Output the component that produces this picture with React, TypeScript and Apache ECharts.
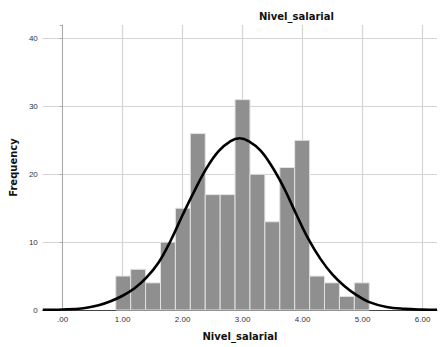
import React, { useEffect, useRef } from "react";
import * as echarts from "echarts";

// Histogram bins (lower edge, upper edge) and frequencies
const binStarts = [0.886, 1.135, 1.383, 1.632, 1.880, 2.129, 2.377, 2.626, 2.874, 3.123, 3.371, 3.620, 3.868, 4.117, 4.365, 4.614, 4.862];
const binEnds = [1.135, 1.383, 1.632, 1.880, 2.129, 2.377, 2.626, 2.874, 3.123, 3.371, 3.620, 3.868, 4.117, 4.365, 4.614, 4.862, 5.111];
const frequencies = [5, 6, 4, 10, 15, 26, 17, 17, 31, 20, 13, 21, 25, 5, 4, 2, 4];

// Normal curve overlay
const curveX = [-0.33, 0, 0.35, 0.6, 0.8, 1.0, 1.2, 1.4, 1.6, 1.8, 2.0, 2.2, 2.4, 2.6, 2.8, 2.95, 3.1, 3.3, 3.5, 3.7, 3.9, 4.1, 4.3, 4.5, 4.7, 4.9, 5.1, 5.4, 5.7, 6.0, 6.24];
const curveY = [0.03, 0.08, 0.27, 0.7, 1.3, 2.1, 3.2, 4.8, 7.0, 10.2, 14.0, 17.6, 20.9, 23.4, 24.9, 25.3, 24.9, 23.5, 21.0, 17.8, 14.0, 10.4, 7.5, 5.2, 3.5, 2.2, 1.2, 0.45, 0.17, 0.06, 0.03];

const yTickValues = [0, 10, 20, 30, 40];
const xTickValues = [0, 1, 2, 3, 4, 5, 6];
const xTickLabels = [".00", "1.00", "2.00", "3.00", "4.00", "5.00", "6.00"];

const titleText = "Nivel_salarial";
const xName = "Nivel_salarial";
const yName = "Frequency";

export default function App() {
  const ref = useRef<HTMLDivElement>(null);

  useEffect(() => {
    if (!ref.current) return;
    const chart = echarts.init(ref.current, undefined, { renderer: "svg" });

    const histData = frequencies.map((f, i) => [binStarts[i], binEnds[i], f]);
    const curveData = curveX.map((x, i) => [x, curveY[i]]);

    const xLabel = (v: number) => {
      const r = Math.round(v);
      if (Math.abs(v - r) > 1e-6) return "";
      const idx = xTickValues.indexOf(r);
      return idx >= 0 ? xTickLabels[idx] : "";
    };
    const yLabel = (v: number) => (yTickValues.indexOf(v) >= 0 ? String(v) : "");

    chart.setOption({
      animation: false,
      backgroundColor: "#ffffff",
      textStyle: { fontFamily: "Liberation Sans" },
      grid: { left: 42, right: 0, top: 25, bottom: 37, containLabel: false },
      graphic: [
        {
          type: "text",
          x: 259,
          y: 16.5,
          style: {
            text: titleText,
            font: "bold 10px 'DejaVu Sans'",
            fill: "#111",
            textVerticalAlign: "middle",
            textAlign: "left",
          },
        },
      ],
      xAxis: {
        type: "value",
        min: -0.33,
        max: 6.24,
        minInterval: 1,
        maxInterval: 1,
        name: xName,
        nameLocation: "middle",
        nameGap: 21,
        nameTextStyle: { fontFamily: "DejaVu Sans", fontWeight: "bold", fontSize: 10, color: "#111" },
        axisLine: { show: true, onZero: false, lineStyle: { color: "#444", width: 1 } },
        axisTick: { show: false },
        axisLabel: { formatter: xLabel, fontSize: 8, color: "#333", margin: 5, showMinLabel: true, showMaxLabel: true },
        splitLine: { show: true, showMinLine: false, showMaxLine: false, lineStyle: { color: "#d4d4d4", width: 1.2 } },
      },
      yAxis: {
        type: "value",
        min: 0,
        max: 42,
        interval: 10,
        name: yName,
        nameLocation: "middle",
        nameGap: 23,
        nameRotate: 90,
        nameTextStyle: { fontFamily: "DejaVu Sans", fontWeight: "bold", fontSize: 10, color: "#111" },
        axisLine: { show: true, lineStyle: { color: "#aaaaaa", width: 1 } },
        axisTick: { show: true, length: 3, lineStyle: { color: "#aaaaaa" } },
        axisLabel: { formatter: yLabel, fontSize: 8, color: "#333", margin: 5 },
        splitLine: { show: true, showMinLine: false, showMaxLine: false, lineStyle: { color: "#d4d4d4", width: 1.2 } },
      },
      series: [
        {
          type: "custom",
          data: histData,
          encode: { x: [0, 1], y: 2 },
          z: 2,
          renderItem: (params: any, api: any) => {
            const s = api.value(0);
            const e = api.value(1);
            const c = api.value(2);
            const p0 = api.coord([s, c]);
            const p1 = api.coord([e, 0]);
            return {
              type: "rect",
              shape: { x: p0[0], y: p0[1], width: p1[0] - p0[0], height: p1[1] - p0[1] },
              style: { fill: "#8f8f8f", stroke: "#e2e2e2", lineWidth: 1 },
            };
          },
        },
        {
          type: "line",
          data: curveData,
          smooth: 0.4,
          symbol: "none",
          z: 3,
          lineStyle: { color: "#000000", width: 2.6 },
        },
      ],
    });

    return () => chart.dispose();
  }, []);

  return (
    <div
      ref={ref}
      style={{ position: "fixed", left: 0, top: 0, width: 440, height: 347 }}
    />
  );
}
